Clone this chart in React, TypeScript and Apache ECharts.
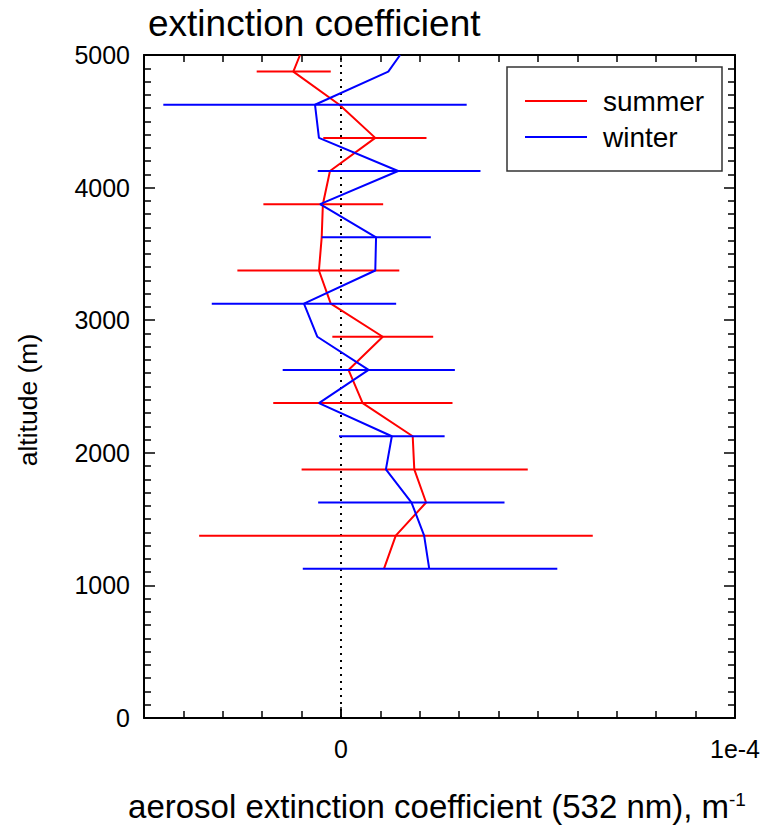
import React, { useEffect, useRef } from 'react';
import * as echarts from 'echarts';

// x values are given in units of 1e-5 m^-1 (the axis runs from -5e-5 to 1e-4)
const altitudes = [5000, 4875, 4625, 4375, 4125, 3875, 3625, 3375, 3125, 2875, 2625, 2375, 2125, 1875, 1625, 1375, 1125];
const summer = [-1.04, -1.21, -0.04, 0.87, -0.28, -0.46, -0.49, -0.56, -0.26, 1.06, 0.19, 0.55, 1.82, 1.86, 2.16, 1.39, 1.09];
const winter = [1.5, 1.2, -0.66, -0.56, 1.45, -0.53, 0.89, 0.87, -0.94, -0.6, 0.7, -0.56, 1.29, 1.14, 1.79, 2.11, 2.24];

const summerErrAlt = [4875, 4375, 3875, 3375, 2875, 2375, 1875, 1375];
const summerErrLow = [-2.14, -0.45, -1.97, -2.63, -0.22, -1.72, -1.0, -3.6];
const summerErrHigh = [-0.26, 2.17, 1.07, 1.48, 2.34, 2.83, 4.74, 6.39];

const winterErrAlt = [4625, 4125, 3625, 3125, 2625, 2125, 1625, 1125];
const winterErrLow = [-4.51, -0.59, -0.49, -3.28, -1.48, -0.05, -0.58, -0.97];
const winterErrHigh = [3.19, 3.54, 2.28, 1.4, 2.89, 2.63, 4.15, 5.49];

const seriesNames = ['summer', 'winter'];
const seriesColors = ['#ff0000', '#0000ff'];
const xMin = -5;
const xMax = 10;
const xMajorValues = [0, 10];
const xMajorLabels = ['0', '1e-4'];
const yMin = 0;
const yMax = 5000;

const FONT = '"Liberation Sans", Arial, Helvetica, sans-serif';

function errRows(alt: number[], lo: number[], hi: number[]) {
  return alt.map((a, i) => [a, lo[i], hi[i]]);
}

function errSeries(name: string, color: string, rows: number[][], z: number) {
  return {
    type: 'custom',
    name,
    xAxisIndex: 0,
    yAxisIndex: 0,
    encode: { x: [1, 2], y: 0 },
    data: rows,
    z,
    renderItem: (params: any, api: any) => {
      const y = api.value(0);
      const p1 = api.coord([api.value(1), y]);
      const p2 = api.coord([api.value(2), y]);
      return {
        type: 'line',
        shape: { x1: p1[0], y1: p1[1], x2: p2[0], y2: p2[1] },
        style: { stroke: color, lineWidth: 2 },
      };
    },
  };
}

export default function App() {
  const ref = useRef<HTMLDivElement>(null);
  useEffect(() => {
    if (!ref.current) return;
    const chart = echarts.init(ref.current, undefined, { renderer: 'svg' });
    const tickLine = { color: '#000', width: 1.5 };
    const xLabelFmt = (v: number) => {
      const i = xMajorValues.findIndex((m) => Math.abs(m - v) < 1e-9);
      return i >= 0 ? xMajorLabels[i] : '';
    };
    const frame = { show: true, onZero: false, lineStyle: { color: '#000', width: 2 } };
    const option: any = {
      animation: false,
      backgroundColor: '#fff',
      grid: { left: 144, right: 29, top: 55, bottom: 107, containLabel: false },
      xAxis: [
        {
          type: 'value', min: xMin, max: xMax, interval: 1, position: 'bottom',
          axisLine: frame,
          axisTick: { show: true, inside: true, length: 7, lineStyle: tickLine },
          axisLabel: { show: false },
          splitLine: { show: false },
        },
        {
          type: 'value', min: xMin, max: xMax, interval: 1, position: 'bottom',
          axisLine: { show: false, onZero: false },
          axisTick: { show: true, inside: true, length: 11, lineStyle: tickLine, customValues: xMajorValues },
          axisLabel: {
            show: true, customValues: xMajorValues, formatter: xLabelFmt,
            fontSize: 25, color: '#000', fontFamily: FONT, margin: 18,
          },
          splitLine: { show: false },
        },
        {
          type: 'value', min: xMin, max: xMax, interval: 1, position: 'top',
          axisLine: frame,
          axisTick: { show: true, inside: true, length: 7, lineStyle: tickLine },
          axisLabel: { show: false },
          splitLine: { show: false },
        },
      ],
      yAxis: [
        {
          type: 'value', min: yMin, max: yMax, interval: 1000, position: 'left',
          axisLine: frame,
          axisTick: { show: true, inside: true, length: 11, lineStyle: tickLine },
          minorTick: { show: true, splitNumber: 10, length: 7, lineStyle: tickLine },
          axisLabel: { show: true, fontSize: 25, color: '#000', fontFamily: FONT, margin: 14, formatter: (v: number) => String(v) },
          splitLine: { show: false },
        },
        {
          type: 'value', min: yMin, max: yMax, interval: 1000, position: 'right',
          axisLine: frame,
          axisTick: { show: true, inside: true, length: 11, lineStyle: tickLine },
          minorTick: { show: true, splitNumber: 10, length: 7, lineStyle: tickLine },
          axisLabel: { show: false },
          splitLine: { show: false },
        },
      ],
      series: [
        {
          type: 'line', name: 'zero', xAxisIndex: 0, yAxisIndex: 0,
          data: [[0, yMin], [0, yMax]], symbol: 'none', silent: true, z: 1,
          lineStyle: { color: '#000', width: 2, type: [2, 5] },
        },
        {
          type: 'line', name: seriesNames[0], xAxisIndex: 0, yAxisIndex: 0,
          data: altitudes.map((a, i) => [summer[i], a]),
          symbol: 'none', z: 2, lineStyle: { color: seriesColors[0], width: 2 },
        },
        errSeries(seriesNames[0] + ' error', seriesColors[0], errRows(summerErrAlt, summerErrLow, summerErrHigh), 3),
        {
          type: 'line', name: seriesNames[1], xAxisIndex: 0, yAxisIndex: 0,
          data: altitudes.map((a, i) => [winter[i], a]),
          symbol: 'none', z: 4, lineStyle: { color: seriesColors[1], width: 2 },
        },
        errSeries(seriesNames[1] + ' error', seriesColors[1], errRows(winterErrAlt, winterErrLow, winterErrHigh), 5),
      ],
      graphic: [
        {
          type: 'text', x: 148, y: 23, z: 100,
          style: { text: 'extinction coefficient', fontSize: 37, fontFamily: FONT, fill: '#000', align: 'left', verticalAlign: 'middle' },
        },
        {
          type: 'text', x: 28, y: 400, rotation: Math.PI / 2, z: 100,
          style: { text: 'altitude (m)', fontSize: 26.5, fontFamily: FONT, fill: '#000', align: 'center', verticalAlign: 'middle' },
        },
        {
          type: 'text', x: 437, y: 806, z: 100,
          style: {
            text: '{a|aerosol extinction coefficient (532 nm), m}{s|-1}',
            align: 'center', verticalAlign: 'middle', fill: '#000',
            rich: {
              a: { fontSize: 33, fontFamily: FONT, fill: '#000' },
              s: { fontSize: 19, fontFamily: FONT, fill: '#000', verticalAlign: 'top' },
            },
          },
        },
        {
          type: 'group', z: 100,
          children: [
            { type: 'rect', shape: { x: 507, y: 67, width: 215, height: 104 }, style: { fill: '#fff', stroke: '#333', lineWidth: 1.5 } },
            { type: 'line', shape: { x1: 525, y1: 101, x2: 587, y2: 101 }, style: { stroke: seriesColors[0], lineWidth: 2 } },
            { type: 'line', shape: { x1: 525, y1: 137, x2: 587, y2: 137 }, style: { stroke: seriesColors[1], lineWidth: 2 } },
            { type: 'text', x: 603, y: 101, style: { text: seriesNames[0], fontSize: 28, fontFamily: FONT, fill: '#000', align: 'left', verticalAlign: 'middle' } },
            { type: 'text', x: 603, y: 137, style: { text: seriesNames[1], fontSize: 28, fontFamily: FONT, fill: '#000', align: 'left', verticalAlign: 'middle' } },
          ],
        },
      ],
    };
    chart.setOption(option);
    return () => chart.dispose();
  }, []);
  return <div ref={ref} style={{ position: 'absolute', left: 0, top: 0, width: 764, height: 825 }} />;
}
